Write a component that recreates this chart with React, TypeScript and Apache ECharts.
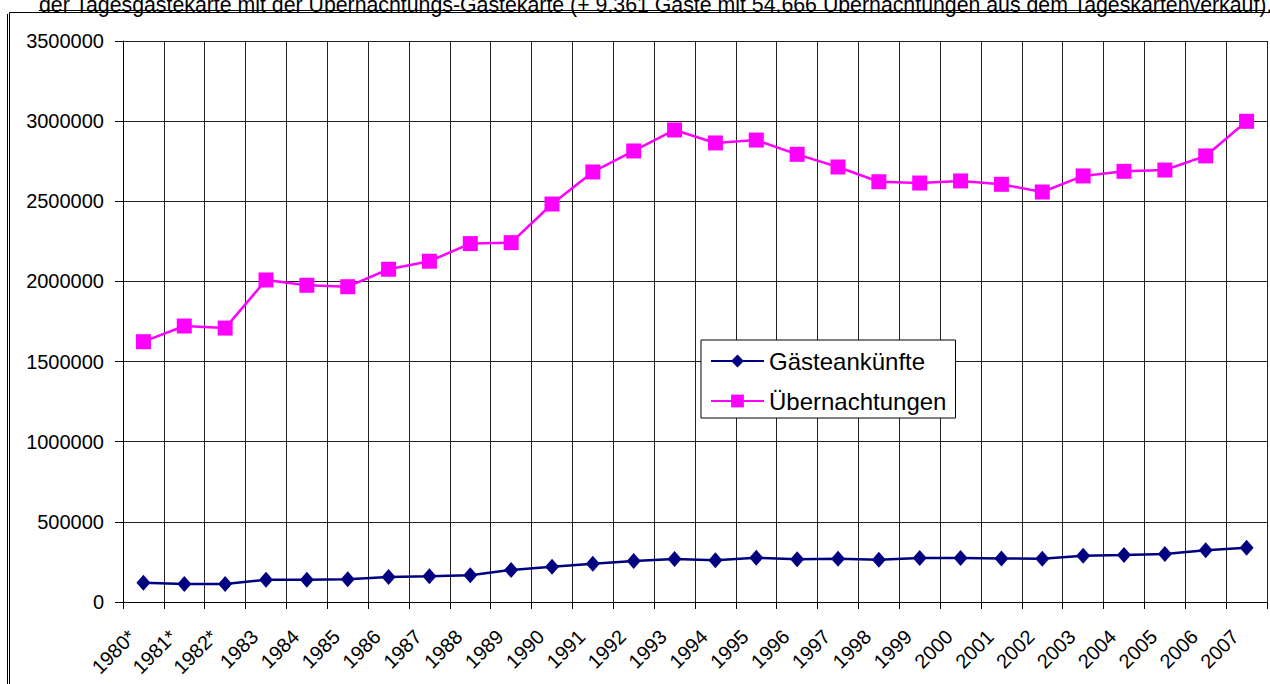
import React, { useEffect, useRef } from "react";
import * as echarts from "echarts";

const years = [
  "1980*", "1981*", "1982*", "1983", "1984", "1985", "1986", "1987", "1988", "1989",
  "1990", "1991", "1992", "1993", "1994", "1995", "1996", "1997", "1998", "1999",
  "2000", "2001", "2002", "2003", "2004", "2005", "2006", "2007",
];

const gaesteankuenfte = [
  120000, 112000, 112000, 139000, 139000, 142000, 156000, 160000, 167000, 200000,
  220000, 239000, 256000, 268000, 260000, 276000, 266000, 270000, 264000, 275000,
  275000, 272000, 270000, 289000, 293000, 300000, 323000, 339000,
];

const uebernachtungen = [
  1624000, 1722000, 1709000, 2009000, 1976000, 1967000, 2076000, 2126000, 2236000, 2242000,
  2483000, 2683000, 2814000, 2945000, 2864000, 2882000, 2793000, 2714000, 2622000, 2614000,
  2627000, 2606000, 2558000, 2658000, 2687000, 2695000, 2783000, 2999000,
];

const seriesNames = ["Gästeankünfte", "Übernachtungen"];

const titleText =
  "der Tagesgästekarte mit der Übernachtungs-Gästekarte (+ 9.361 Gäste mit 54.666 Übernachtungen aus dem Tageskartenverkauf).";

const FONT = "'Liberation Sans', Arial, sans-serif";

export default function App() {
  const ref = useRef<HTMLDivElement>(null);

  useEffect(() => {
    if (!ref.current) return;
    const chart = echarts.init(ref.current, null, { renderer: "svg" });
    chart.setOption({
      animation: false,
      backgroundColor: "#ffffff",
      textStyle: { fontFamily: FONT },
      grid: { left: 123, right: 3, top: 41, bottom: 82, containLabel: false },
      legend: {
        orient: "vertical",
        left: 701,
        top: 340,
        data: seriesNames,
        backgroundColor: "#ffffff",
        borderColor: "#000000",
        borderWidth: 1,
        borderRadius: 0,
        padding: [8, 9, 4, 9],
        itemWidth: 53,
        itemHeight: 16,
        itemGap: 14,
        textStyle: { fontFamily: FONT, fontSize: 24, color: "#000", lineHeight: 26 },
      },
      xAxis: {
        type: "category",
        data: years,
        boundaryGap: true,
        axisLine: { show: true, lineStyle: { color: "#000", width: 1 } },
        axisTick: { show: true, inside: false, length: 7, lineStyle: { color: "#000" } },
        splitLine: { show: true, lineStyle: { color: "#222", width: 1 } },
        axisLabel: {
          rotate: 45,
          interval: 0,
          margin: 20,
          padding: [0, 16, 0, 0],
          fontFamily: FONT,
          fontSize: 20,
          color: "#000",
        },
      },
      yAxis: {
        type: "value",
        min: 0,
        max: 3500000,
        interval: 500000,
        axisLine: { show: true, lineStyle: { color: "#000", width: 1 } },
        axisTick: { show: true, inside: false, length: 8, lineStyle: { color: "#000" } },
        splitLine: { show: true, lineStyle: { color: "#222", width: 1 } },
        axisLabel: {
          margin: 19,
          fontFamily: FONT,
          fontSize: 20,
          color: "#000",
          formatter: (v: number) => String(v),
        },
      },
      series: [
        {
          name: seriesNames[0],
          type: "line",
          data: gaesteankuenfte,
          symbol: "diamond",
          symbolSize: [14, 16],
          color: "#000080",
          lineStyle: { color: "#000080", width: 2.5 },
          itemStyle: { color: "#000080" },
          z: 3,
        },
        {
          name: seriesNames[1],
          type: "line",
          data: uebernachtungen,
          symbol: "rect",
          symbolSize: 15,
          color: "#FF00FF",
          lineStyle: { color: "#FF00FF", width: 2.5 },
          itemStyle: { color: "#FF00FF" },
          z: 3,
        },
      ],
      graphic: [
        {
          type: "text",
          left: 39,
          top: -6,
          style: {
            text: titleText,
            font: `21.3px ${FONT}`,
            fill: "#000",
          },
          z: 10,
        },
        {
          type: "line",
          shape: { x1: 39, y1: 10.5, x2: 1265, y2: 10.5 },
          style: { stroke: "#000", lineWidth: 1 },
          z: 10,
        },
        {
          type: "line",
          shape: { x1: 9.5, y1: 12.5, x2: 1270, y2: 12.5 },
          style: { stroke: "#000", lineWidth: 1 },
          z: 10,
        },
        {
          type: "line",
          shape: { x1: 9.5, y1: 12.5, x2: 9.5, y2: 684 },
          style: { stroke: "#000", lineWidth: 1 },
          z: 10,
        },
        {
          type: "line",
          shape: { x1: 7.5, y1: 14, x2: 7.5, y2: 684 },
          style: { stroke: "#000", lineWidth: 1 },
          z: 10,
        },
      ],
    });
    return () => chart.dispose();
  }, []);

  return (
    <div
      ref={ref}
      style={{ position: "fixed", left: 0, top: 0, width: 1270, height: 684 }}
    />
  );
}
